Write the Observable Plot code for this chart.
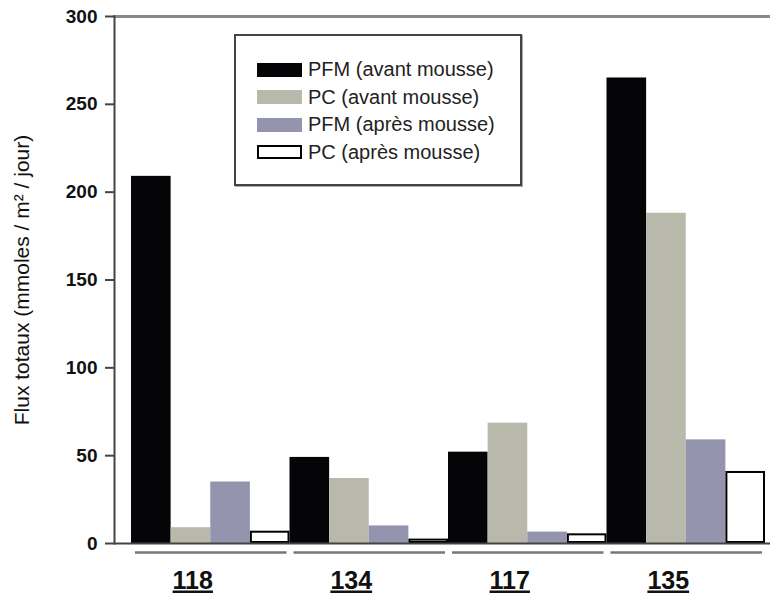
<!DOCTYPE html>
<html>
<head>
<meta charset="utf-8">
<script src="https://cdn.jsdelivr.net/npm/d3@7"></script>
<script src="https://cdn.jsdelivr.net/npm/@observablehq/plot@0.6"></script>
<style>
  body { margin: 0; background: #fff; }
  #wrap { position: relative; width: 770px; height: 603px; font-family: "Liberation Sans", Arial, sans-serif; }
  #legend { position: absolute; left: 234px; top: 34px; width: 288px; height: 152px; box-sizing: border-box;
    border: 2px solid #444; box-shadow: 1px 1px 0 #aaa; background: #fff; padding: 20px 0 0 21px; }
  .row { display: flex; align-items: center; height: 27.5px; font-size: 20px; color: #222; white-space: nowrap; }
  .sw { width: 45px; height: 14px; box-sizing: border-box; margin-right: 6px; flex: none; }
  g[aria-label="y-axis tick label"] text { font-weight: bold; }
</style>
</head>
<body>
<div id="wrap"></div>
<script>
const groups = ["118", "134", "117", "135"];
const series = ["PFM (avant mousse)", "PC (avant mousse)", "PFM (après mousse)", "PC (après mousse)"];
const pfmAvant = [209, 49, 52, 265];
const pcAvant = [9, 37, 68.5, 188];
const pfmApres = [35, 10, 6.5, 59];
const pcApres = [7, 2.5, 5.5, 41];
const colors = ["#050508", "#b8b9aa", "#9594ae", "#ffffff"];
const yTicks = [0, 50, 100, 150, 200, 250, 300];
const yTitle = "Flux totaux (mmoles / m² / jour)";

const valuesBySeries = [pfmAvant, pcAvant, pfmApres, pcApres];
const data = [];
groups.forEach((g, gi) => {
  series.forEach((s, si) => {
    data.push({group: g, series: s, gi, si, pos: gi * series.length + si, value: valuesBySeries[si][gi]});
  });
});
const groupData = groups.map((g, gi) => ({group: g, start: gi * series.length, end: (gi + 1) * series.length}));

const chart = Plot.plot({
  width: 770,
  height: 603,
  marginLeft: 114,
  marginRight: 0,
  marginTop: 16,
  marginBottom: 60,
  style: {fontFamily: '"Liberation Sans", Arial, sans-serif', color: "#111", background: "#fff"},
  x: {domain: [0, groups.length * series.length], range: [131, 765], axis: null},
  y: {domain: [0, 300], axis: null},
  color: {domain: series, range: colors},
  marks: [
    Plot.frame({anchor: "top", stroke: "#888", strokeWidth: 3}),
    Plot.rectY(data, {x1: "pos", x2: d => d.pos + 1, y: "value", fill: "series"}),
    Plot.rectY(data.filter(d => d.si === 3), {x1: "pos", x2: d => d.pos + 1, y: "value", fill: "#fff", stroke: "#000", strokeWidth: 2, inset: 1}),
    Plot.ruleY([0], {stroke: "#444", strokeWidth: 2}),
    Plot.frame({anchor: "left", stroke: "#444", strokeWidth: 2}),
    Plot.axisY({ticks: yTicks, tickSize: 9, tickPadding: 8, tickFormat: d => String(d), fontSize: 19, stroke: "#444", strokeWidth: 2, label: null}),
    Plot.text([yTitle], {frameAnchor: "left", textAnchor: "middle", rotate: -90, dx: -92, fontSize: 21, fill: "#111"}),
    Plot.ruleY(groupData, {y: 0, x1: "start", x2: "end", dy: 9, insetLeft: 4, insetRight: 3, stroke: "#777", strokeWidth: 2.5}),
    Plot.text(groupData, {x: d => (d.start + d.end) / 2, text: "group", frameAnchor: "bottom", dy: 45, dx: -18, fontSize: 25, fontWeight: "bold", fill: "#111"})
  ]
});

d3.select(chart).selectAll("text").filter(function() { return groups.includes(this.textContent); })
  .style("text-decoration", "underline");

const wrap = document.getElementById("wrap");
wrap.appendChild(chart);

const legend = document.createElement("div");
legend.id = "legend";
series.forEach((s, i) => {
  const row = document.createElement("div");
  row.className = "row";
  const sw = document.createElement("div");
  sw.className = "sw";
  sw.style.background = colors[i];
  if (i === 3) sw.style.border = "2px solid #000";
  const t = document.createElement("span");
  t.textContent = s;
  row.appendChild(sw);
  row.appendChild(t);
  legend.appendChild(row);
});
wrap.appendChild(legend);
</script>
</body>
</html>
